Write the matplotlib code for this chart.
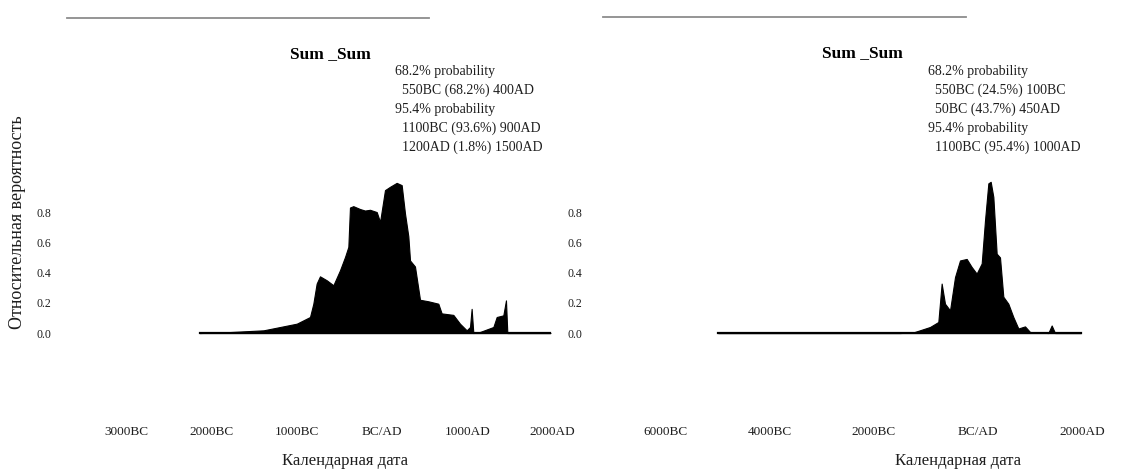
import numpy as np
import matplotlib
matplotlib.use("Agg")
import matplotlib.pyplot as plt
from matplotlib.lines import Line2D

plt.rcParams['font.family'] = ['Liberation Serif', 'DejaVu Serif']

# left panel: summed probability (years, negative = BC)
left_years = [-2140, -1800, -1390, -1000, -845, -806, -767, -728, -649, -571, -493, -434, -395,
              -376, -337, -258, -200, -141, -62, -23, 35, 94, 172, 231, 270, 309, 329, 387,
              446, 544, 661, 700, 837, 915, 994, 1033, 1052, 1072, 1150, 1307, 1346, 1424,
              1455, 1471, 1975]
left_prob = [0.0, 0.006, 0.018, 0.062, 0.106, 0.194, 0.327, 0.375, 0.349, 0.316, 0.415, 0.503, 0.57,
             0.83, 0.839, 0.82, 0.81, 0.815, 0.80, 0.735, 0.945, 0.967, 0.993, 0.978, 0.79, 0.64,
             0.48, 0.44, 0.22, 0.21, 0.194, 0.13, 0.12, 0.062, 0.018, 0.04, 0.16, 0.0, 0.007, 0.04,
             0.106, 0.117, 0.216, 0.0, 0.0]

# right panel
right_years = [-5000, -1500, -1244, -923, -763, -699, -635, -538, -442, -346, -218, -122, -26, 71,
               135, 199, 244, 295, 359, 423, 487, 583, 679, 776, 904, 1000, 1352, 1417, 1481, 1980]
right_prob = [0.0, 0.0, 0.004, 0.04, 0.073, 0.327, 0.194, 0.15, 0.37, 0.48, 0.49, 0.437, 0.393, 0.46,
              0.746, 0.99, 1.0, 0.9, 0.525, 0.50, 0.24, 0.194, 0.106, 0.03, 0.044, 0.007, 0.0, 0.05,
              0.0, 0.0]

left_ticks = [-3000, -2000, -1000, 0, 1000, 2000]
left_ticklabels = ['3000BC', '2000BC', '1000BC', 'BC/AD', '1000AD', '2000AD']
right_ticks = [-6000, -4000, -2000, 0, 2000]
right_ticklabels = ['6000BC', '4000BC', '2000BC', 'BC/AD', '2000AD']
y_ticks = [0.0, 0.2, 0.4, 0.6, 0.8]

title = 'Sum _Sum'
left_text = ('68.2% probability\n  550BC (68.2%) 400AD\n95.4% probability\n'
             '  1100BC (93.6%) 900AD\n  1200AD (1.8%) 1500AD')
right_text = ('68.2% probability\n  550BC (24.5%) 100BC\n  50BC (43.7%) 450AD\n'
              '95.4% probability\n  1100BC (95.4%) 1000AD')

W, H = 1123, 469
fig = plt.figure(figsize=(W / 100, H / 100), dpi=100)
ink = '#1e1e1e'


def px_axes(x0, x1, ytop, ybot):
    return fig.add_axes([x0 / W, 1 - ybot / H, (x1 - x0) / W, (ybot - ytop) / H])


def style(ax, ticks, labels, pad_y):
    ax.set_xticks(ticks)
    ax.set_xticklabels(labels, fontsize=9.5)
    ax.set_yticks(y_ticks)
    ax.set_yticklabels(['%.1f' % v for v in y_ticks], fontsize=8.5)
    ax.tick_params(axis='x', length=0, pad=4, colors=ink)
    ax.tick_params(axis='y', length=0, pad=pad_y, colors=ink)
    for s in ax.spines.values():
        s.set_visible(False)
    ax.set_ylim(-0.575, 1.045)


# left axes: year 0 at px 382, 0.0852 px/yr
axL = px_axes(60, 560, 175, 420)
axL.set_xlim((60 - 382) / 0.0852, (560 - 382) / 0.0852)
axL.fill_between(left_years, left_prob, color='black', lw=0.8, edgecolor='black')
axL.plot(left_years, np.zeros(len(left_years)), color='black', lw=1.6)
style(axL, left_ticks, left_ticklabels, 6)
axL.set_xlabel('Календарная дата', fontsize=12, color=ink)
axL.xaxis.set_label_coords(0.57, -0.135)

# right axes: year 0 at px 978, 0.052 px/yr
axR = px_axes(595, 1110, 175, 420)
axR.set_xlim((595 - 978) / 0.052, (1110 - 978) / 0.052)
axR.fill_between(right_years, right_prob, color='black', lw=0.8, edgecolor='black')
axR.plot(right_years, np.zeros(len(right_years)), color='black', lw=1.6)
style(axR, right_ticks, right_ticklabels, 9)
axR.set_xlabel('Календарная дата', fontsize=12, color=ink)
axR.xaxis.set_label_coords(0.705, -0.135)

fig.text(18 / W, 1 - 222 / H, 'Относительная вероятность', rotation=90,
         ha='center', va='center', fontsize=13, color=ink)

fig.text(330 / W, 1 - 54 / H, title, ha='center', va='center', fontsize=12.5, fontweight='bold')
fig.text(862 / W, 1 - 53 / H, title, ha='center', va='center', fontsize=12.5, fontweight='bold')

fig.text(395 / W, 1 - 65 / H, left_text, ha='left', va='top', fontsize=10,
         linespacing=1.55, color=ink)
fig.text(928 / W, 1 - 65 / H, right_text, ha='left', va='top', fontsize=10,
         linespacing=1.55, color=ink)

# faint scan lines at the top of each panel
fig.add_artist(Line2D([67 / W, 429 / W], [1 - 18.5 / H, 1 - 18.5 / H], color='#8c8c8c', lw=1.3))
fig.add_artist(Line2D([603 / W, 966 / W], [1 - 17 / H, 1 - 17 / H], color='#8c8c8c', lw=1.3))

fig.savefig('out.png', dpi=100)
